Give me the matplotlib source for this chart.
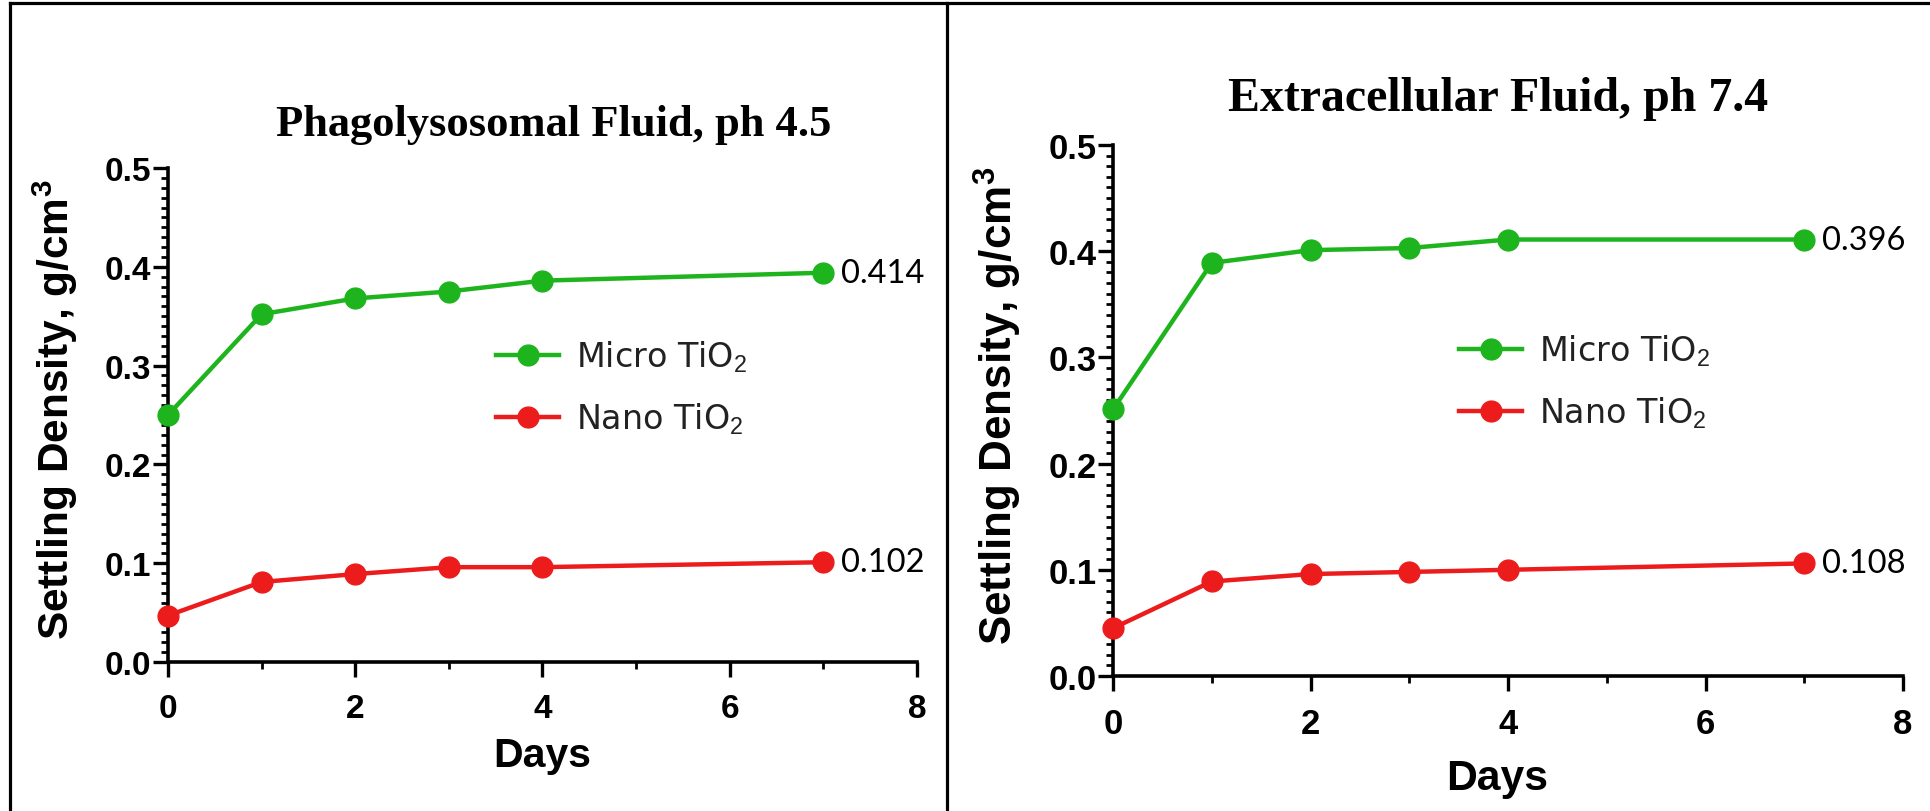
import matplotlib
matplotlib.use("Agg")
import matplotlib.pyplot as plt
from matplotlib.lines import Line2D
from matplotlib.ticker import MultipleLocator, FormatStrFormatter

# ---------------- data ----------------
days = [0, 1, 2, 3, 4, 7]

titles = ["Phagolysosomal Fluid, ph 4.5", "Extracellular Fluid, ph 7.4"]

micro_phago = [0.250, 0.352, 0.368, 0.375, 0.386, 0.394]
nano_phago = [0.047, 0.081, 0.089, 0.096, 0.096, 0.101]

micro_extra = [0.251, 0.389, 0.401, 0.403, 0.411, 0.411]
nano_extra = [0.045, 0.089, 0.096, 0.098, 0.100, 0.106]

end_labels_phago = ["0.414", "0.102"]
end_labels_extra = ["0.396", "0.108"]

series_names = ["Micro TiO$_2$", "Nano TiO$_2$"]
x_ticks = [0, 2, 4, 6, 8]
y_ticks = [0.0, 0.1, 0.2, 0.3, 0.4, 0.5]
x_label = "Days"
y_label = r"Settling Density, g/cm$^{\mathbf{3}}$"

# ---------------- style ----------------
GREEN = "#1db41d"
RED = "#ec1c1c"
SANS = "Liberation Sans"
W, H, DPI = 1931, 812, 100
plt.rcParams["mathtext.fontset"] = "custom"
plt.rcParams["mathtext.rm"] = SANS
plt.rcParams["mathtext.bf"] = SANS + ":bold"
plt.rcParams["font.family"] = SANS

fig = plt.figure(figsize=(W / DPI, H / DPI), dpi=DPI)
fig.patch.set_facecolor("white")


def px_rect(x0, y0, x1, y1):
    return [x0 / W, 1 - y1 / H, (x1 - x0) / W, (y1 - y0) / H]


panels = [
    dict(rect=px_rect(168, 169, 917, 663), title=titles[0],
         micro=micro_phago, nano=nano_phago, labels=end_labels_phago,
         title_xy=(0.515, 1.09), ylab=(-0.150, 0.512), xlab=(0.499, -0.188),
         leg=(0.438, 0.556), fs=1.0, tfs=32),
    dict(rect=px_rect(1113, 146, 1903, 677), title=titles[1],
         micro=micro_extra, nano=nano_extra, labels=end_labels_extra,
         title_xy=(0.487, 1.089), ylab=(-0.145, 0.510), xlab=(0.486, -0.193),
         leg=(0.438, 0.555), fs=1.04, tfs=34.5),
]

for p in panels:
    fs = p["fs"]
    ax = fig.add_axes(p["rect"])
    ax.set_xlim(0, 8)
    ax.set_ylim(0, 0.5)
    for s in ["top", "right"]:
        ax.spines[s].set_visible(False)
    for s in ["left", "bottom"]:
        ax.spines[s].set_linewidth(2.6)

    l1, = ax.plot(days, p["micro"], color=GREEN, lw=3.2, marker="o",
                  ms=15, clip_on=False, zorder=3, label=series_names[0])
    l2, = ax.plot(days, p["nano"], color=RED, lw=3.2, marker="o",
                  ms=15, clip_on=False, zorder=3, label=series_names[1])

    for vals, lab in zip([p["micro"], p["nano"]], p["labels"]):
        ax.annotate(lab, xy=(days[-1], vals[-1]), xytext=(13, 0),
                    textcoords="offset points", va="center", ha="left",
                    fontsize=23.5, family="Lato", color="black")

    ax.set_xticks(x_ticks)
    ax.xaxis.set_minor_locator(MultipleLocator(1))
    ax.set_yticks(y_ticks)
    ax.yaxis.set_minor_locator(MultipleLocator(0.01))
    ax.yaxis.set_major_formatter(FormatStrFormatter("%.1f"))
    ax.tick_params(which="major", direction="out", length=10.5, width=2.4,
                   labelsize=24 * fs)
    ax.tick_params(which="minor", direction="out", length=5, width=2.0)
    ax.tick_params(axis="x", which="major", pad=12)
    ax.tick_params(axis="y", which="major", pad=1.5)
    for t in ax.get_xticklabels() + ax.get_yticklabels():
        t.set_fontweight("bold")

    ax.set_ylabel(y_label, fontsize=30.5 * fs, fontweight="bold", va="center")
    ax.yaxis.set_label_coords(*p["ylab"])
    ax.set_xlabel(x_label, fontsize=29.5 * fs, fontweight="bold", va="center")
    ax.xaxis.set_label_coords(*p["xlab"])

    ax.text(p["title_xy"][0], p["title_xy"][1], p["title"],
            transform=ax.transAxes, ha="center", va="center",
            fontsize=p["tfs"], fontweight="bold", family="Liberation Serif")

    leg = ax.legend(handles=[l1, l2], loc="center left",
                    bbox_to_anchor=p["leg"], frameon=False,
                    prop={"family": "DejaVu Sans", "size": 24},
                    handlelength=1.9, handletextpad=0.5, labelspacing=0.78,
                    borderpad=0, borderaxespad=0)
    for t in leg.get_texts():
        t.set_color("#222222")

# frame lines of the composite image
lw = 2.3
fig.add_artist(Line2D([10 / W, 1], [1 - 4 / H, 1 - 4 / H], color="black",
                      lw=lw, transform=fig.transFigure))
fig.add_artist(Line2D([10 / W, 10 / W], [0, 1 - 4 / H], color="black",
                      lw=lw, transform=fig.transFigure))
fig.add_artist(Line2D([947 / W, 947 / W], [0, 1 - 4 / H], color="black",
                      lw=lw, transform=fig.transFigure))

fig.savefig("out.png", dpi=DPI, facecolor="white")
